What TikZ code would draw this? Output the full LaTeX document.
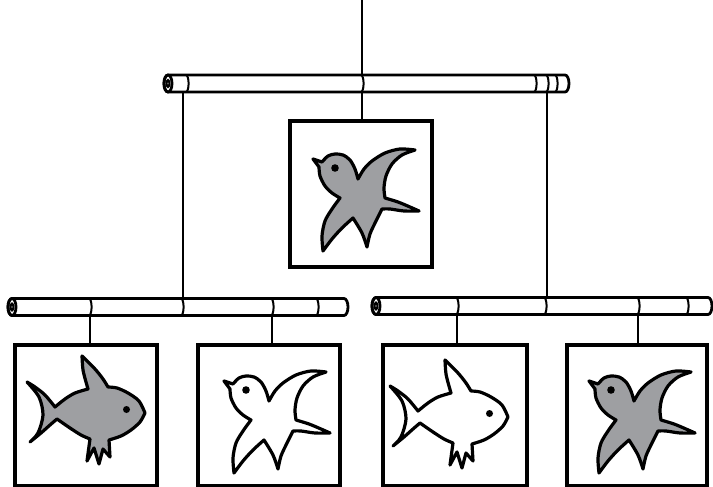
\documentclass[tikz,border=0pt]{standalone}
\definecolor{shapegray}{RGB}{158,159,162}
% rod body: left x, right x, centre y, half thickness
\newcommand\mobilerod[4]{%
  \filldraw[rodline,fill=white] (#1,#3-#4) -- (#2,#3-#4)
    arc[start angle=-90,end angle=90,x radius=4,y radius=#4]
    -- (#1,#3+#4)
    arc[start angle=90,end angle=270,x radius=4,y radius=#4] -- cycle;
  \draw[rodline] (#1,#3) ellipse[x radius=4,y radius=#4];
  \draw[ring] (#1,#3) ellipse[x radius=1.4,y radius=#4*0.4];
}
% a ring or joint across a rod: x, centre y, half thickness
\newcommand\rodring[3]{%
  \draw[ring] (#1,#2-#3) arc[start angle=-90,end angle=90,x radius=2.6,y radius=#3];
}
\begin{document}
\begin{tikzpicture}[x=1pt,y=-1pt,
  ink/.style={draw=black, line width=3.2pt, line join=round, line cap=round},
  cord/.style={line width=2pt},
  rodline/.style={line width=2.8pt, line join=round},
  ring/.style={line width=2pt},
  panel/.style={draw, fill=white, line width=3.2pt, rectangle, inner sep=0pt, outer sep=0pt},
  bird/.pic={
    \path[pic actions, ink] (23,38) -- (32,41)
      -- plot[smooth] coordinates {(32,41) (38,35) (45,33) (53,34) (60,39) (65,48) (68,58)}
      -- plot[smooth] coordinates {(68,58) (74,48) (82,40) (95,32) (110,28) (125,29)}
      -- plot[smooth] coordinates {(125,29) (112,34) (102,43) (96,55) (94,67) (95,77)}
      -- plot[smooth] coordinates {(95,77) (108,81) (120,86) (129,90)}
      -- plot[smooth] coordinates {(129,90) (114,90) (100,88) (92,88)}
      -- plot[smooth] coordinates {(92,88) (86,100) (80,113) (77,126)}
      -- plot[smooth] coordinates {(77,126) (72,112) (63,97)}
      -- plot[smooth] coordinates {(63,97) (52,107) (42,118) (33,130)}
      -- plot[smooth] coordinates {(33,130) (32,115) (35,100) (42,88) (50,77)}
      -- plot[smooth] coordinates {(50,77) (42,72) (35,65) (30,55) (29,46)}
      -- cycle;
    \fill[black] (45,47) circle[radius=3.8];
  },
  fish/.pic={
    \path[pic actions, ink]
      plot[smooth] coordinates {(130,68) (124,56) (113,48) (102,43) (93,42)}
      -- plot[smooth] coordinates {(93,42) (88,34) (80,24) (67,11)}
      -- plot[smooth] coordinates {(67,11) (68,25) (71,37) (73,44)}
      -- plot[smooth] coordinates {(73,44) (60,48) (50,54) (40,62)}
      -- plot[smooth] coordinates {(40,62) (30,50) (20,42) (12,37)}
      -- plot[smooth] coordinates {(12,37) (24,52) (28,70) (23,88) (15,97)}
      -- plot[smooth] coordinates {(15,97) (26,88) (35,80) (42,74)}
      -- plot[smooth] coordinates {(42,74) (55,83) (66,90) (75,94)}
      -- (72,116) -- (79,103) -- (84,119) -- (88,104) -- (95,112) -- (94,95)
      -- plot[smooth] coordinates {(94,95) (106,91) (116,85) (125,77) (130,68)}
      -- cycle;
    \fill[black] (111.5,64.5) circle[radius=3.5];
  }]
\useasboundingbox (0,0) rectangle (713,487);

% hanging points
\coordinate (hook) at (362,0);
\coordinate (topC) at (362,83.5);
\coordinate (topL) at (183,83.5);
\coordinate (topR) at (547,83.5);
\coordinate (leftC) at (183,307);
\coordinate (leftA) at (90,307);
\coordinate (leftB) at (272,307);
\coordinate (rightC) at (547,306);
\coordinate (rightA) at (457,306);
\coordinate (rightB) at (638,306);

% panels
\node[panel, minimum width=142pt, minimum height=146pt] (P0) at (361,194) {};
\node[panel, minimum width=142pt, minimum height=141pt] (P1) at (86,415.5) {};
\node[panel, minimum width=142pt, minimum height=141pt] (P2) at (269,415.5) {};
\node[panel, minimum width=144pt, minimum height=141pt] (P3) at (455,415.5) {};
\node[panel, minimum width=140pt, minimum height=141pt] (P4) at (637,415.5) {};

% cords
\draw[cord] (hook) -- (P0.north -| hook);
\draw[cord] (topL) -- (leftC);
\draw[cord] (topR) -- (rightC);
\draw[cord] (leftA) -- (P1.north -| leftA);
\draw[cord] (leftB) -- (P2.north -| leftB);
\draw[cord] (rightA) -- (P3.north -| rightA);
\draw[cord] (rightB) -- (P4.north -| rightB);

% top rod
\mobilerod{168}{565}{83.5}{8.5}
\rodring{186}{83.5}{8.5}
\rodring{361}{83.5}{8.5}
\rodring{534}{83.5}{8.5}
\rodring{546}{83.5}{8.5}
\rodring{555}{83.5}{8.5}

% lower left rod
\mobilerod{12}{344}{307}{8.5}
\rodring{89}{307}{8.5}
\rodring{181}{307}{8.5}
\rodring{271}{307}{8.5}
\rodring{316}{307}{8.5}

% lower right rod
\mobilerod{376}{708}{306}{8.5}
\rodring{456}{306}{8.5}
\rodring{544}{306}{8.5}
\rodring{637}{306}{8.5}
\rodring{686}{306}{8.5}

% figures in the panels
\pic[fill=shapegray] at (P0.north west) {bird};
\pic[fill=shapegray] at (P1.north west) {fish};
\pic[fill=white] at ([shift={(3,-2)}]P2.north west) {bird};
\pic[fill=white] at ([shift={(-5,4)}]P3.north west) {fish};
\pic[fill=shapegray] at ([shift={(-1,-2)}]P4.north west) {bird};
\end{tikzpicture}
\end{document}
